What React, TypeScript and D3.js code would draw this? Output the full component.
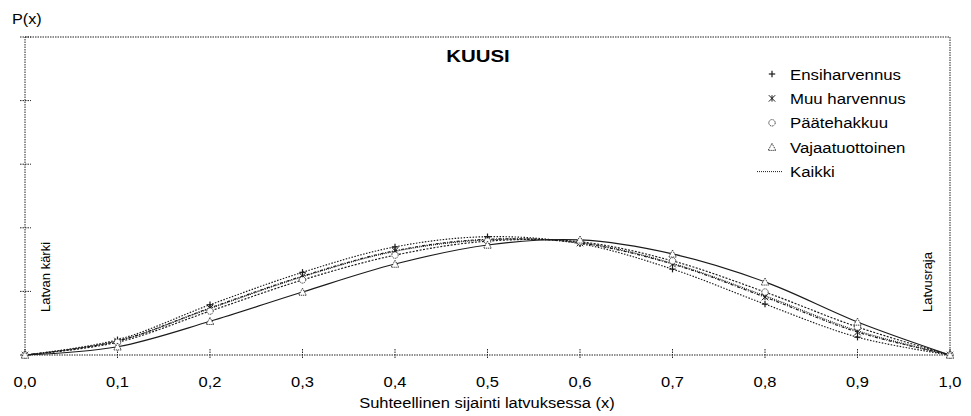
import React from "react";
import * as d3 from "d3";

const xs = [0, 0.1, 0.2, 0.3, 0.4, 0.5, 0.6, 0.7, 0.8, 0.9, 1.0];
const xTicks = [0, 0.1, 0.2, 0.3, 0.4, 0.5, 0.6, 0.7, 0.8, 0.9, 1.0];
const yTicks = [0, 1, 2, 3, 4, 5];

const ensiharvennus = [0, 0.24, 0.79, 1.3, 1.7, 1.86, 1.75, 1.35, 0.8, 0.28, 0];
const muuHarvennus = [0, 0.22, 0.74, 1.24, 1.64, 1.82, 1.76, 1.43, 0.91, 0.36, 0];
const paatehakkuu = [0, 0.2, 0.69, 1.18, 1.57, 1.79, 1.78, 1.48, 0.99, 0.44, 0];
const vajaatuottoinen = [0, 0.13, 0.53, 0.99, 1.43, 1.73, 1.81, 1.59, 1.15, 0.52, 0];
const kaikki = [0, 0.22, 0.73, 1.23, 1.63, 1.81, 1.77, 1.44, 0.93, 0.38, 0];

const seriesNames = ["Ensiharvennus", "Muu harvennus", "Päätehakkuu", "Vajaatuottoinen", "Kaikki"];

const W = 971;
const H = 416;
const M = { left: 25, right: 950, top: 37, bottom: 355 };

const x = d3.scaleLinear().domain([0, 1]).range([M.left, M.right]);
const y = d3.scaleLinear().domain([0, 5]).range([M.bottom, M.top]);

const line = d3
  .line<number>()
  .x((_, i) => x(xs[i]))
  .y((d) => y(d))
  .curve(d3.curveCatmullRom.alpha(0.5));

const COL = "#1a1a1a";

function T({
  x: tx,
  y: ty,
  size,
  anchor = "start",
  sx = 1.12,
  bold = false,
  children,
}: {
  x: number;
  y: number;
  size: number;
  anchor?: string;
  sx?: number;
  bold?: boolean;
  children: React.ReactNode;
}) {
  return (
    <g transform={`translate(${tx},${ty}) scale(${sx},1)`}>
      <text x={0} y={0} fontSize={size} textAnchor={anchor} fontWeight={bold ? "bold" : "normal"} fill="#000">
        {children}
      </text>
    </g>
  );
}

function Marker({ type, cx, cy }: { type: string; cx: number; cy: number }) {
  const s = 3.2;
  if (type === "plus") {
    return (
      <g stroke={COL} strokeWidth={1.2}>
        <line x1={cx - s} x2={cx + s} y1={cy} y2={cy} />
        <line x1={cx} x2={cx} y1={cy - s} y2={cy + s} />
      </g>
    );
  }
  if (type === "star") {
    return (
      <g stroke={COL} strokeWidth={1}>
        <line x1={cx - s} x2={cx + s} y1={cy - s} y2={cy + s} />
        <line x1={cx - s} x2={cx + s} y1={cy + s} y2={cy - s} />
        <line x1={cx} x2={cx} y1={cy - s} y2={cy + s} />
      </g>
    );
  }
  if (type === "circle") {
    return <circle cx={cx} cy={cy} r={3.2} fill="white" stroke={COL} strokeWidth={0.9} strokeDasharray="1.2 0.8" />;
  }
  if (type === "triangle") {
    const p = `${cx},${cy - 3.8} ${cx + 3.8},${cy + 3.2} ${cx - 3.8},${cy + 3.2}`;
    return <polygon points={p} fill="white" stroke={COL} strokeWidth={0.9} strokeDasharray="1.2 0.8" />;
  }
  return null;
}

const series = [
  { name: seriesNames[0], data: ensiharvennus, marker: "plus", dash: "1.5 1.5" },
  { name: seriesNames[1], data: muuHarvennus, marker: "star", dash: "3 1.5 1 1.5" },
  { name: seriesNames[2], data: paatehakkuu, marker: "circle", dash: "2 1.5" },
  { name: seriesNames[3], data: vajaatuottoinen, marker: "triangle", dash: "" },
  { name: seriesNames[4], data: kaikki, marker: "none", dash: "1 1" },
];

export default function App() {
  const font = "Liberation Sans, Arial, sans-serif";
  return (
    <svg width={W} height={H} style={{ position: "absolute", left: 0, top: 0 }} fontFamily={font}>
      <rect width={W} height={H} fill="white" />
      <rect
        x={M.left}
        y={M.top}
        width={M.right - M.left}
        height={M.bottom - M.top}
        fill="none"
        stroke="#222"
        strokeWidth={1}
        strokeDasharray="1.5 1"
      />
      {yTicks.map((t) => (
        <line key={"yt" + t} x1={M.left - 5} x2={M.left + 6} y1={y(t)} y2={y(t)} stroke="#222" strokeDasharray="1.5 1" />
      ))}
      {xTicks.map((t) => (
        <g key={"xt" + t}>
          <line x1={x(t)} x2={x(t)} y1={M.bottom - 6} y2={M.bottom + 4} stroke="#222" strokeDasharray="1.5 1" />
          <T x={x(t)} y={387} size={15} anchor="middle" sx={1.1}>
            {t.toFixed(1).replace(".", ",")}
          </T>
        </g>
      ))}
      <T x={487} y={408} size={15} anchor="middle" sx={1.1}>
        Suhteellinen sijainti latvuksessa (x)
      </T>
      <T x={12} y={24} size={14.5} sx={1.12}>
        P(x)
      </T>
      <T x={478} y={62} size={17} anchor="middle" sx={1.2} bold>
        KUUSI
      </T>
      <text transform={`translate(50,312) rotate(-90)`} fontSize={13} fill="#000">
        Latvan kärki
      </text>
      <text transform={`translate(932,312) rotate(-90)`} fontSize={13} fill="#000">
        Latvusraja
      </text>
      {series.map((s) => (
        <path
          key={s.name}
          d={line(s.data) || ""}
          fill="none"
          stroke={COL}
          strokeWidth={1.15}
          strokeDasharray={s.dash || undefined}
        />
      ))}
      {series.map((s) =>
        s.data.map((v, i) => <Marker key={s.name + i} type={s.marker} cx={x(xs[i])} cy={y(v)} />)
      )}
      {series.map((s, i) => {
        const ly = 74 + i * 24.4;
        return (
          <g key={"lg" + s.name}>
            {s.marker === "none" ? (
              <line x1={757} x2={783} y1={ly} y2={ly} stroke={COL} strokeDasharray={s.dash} />
            ) : (
              <Marker type={s.marker} cx={772} cy={ly} />
            )}
            <T x={790} y={ly + 5.5} size={15} sx={1.12}>
              {s.name}
            </T>
          </g>
        );
      })}
    </svg>
  );
}
